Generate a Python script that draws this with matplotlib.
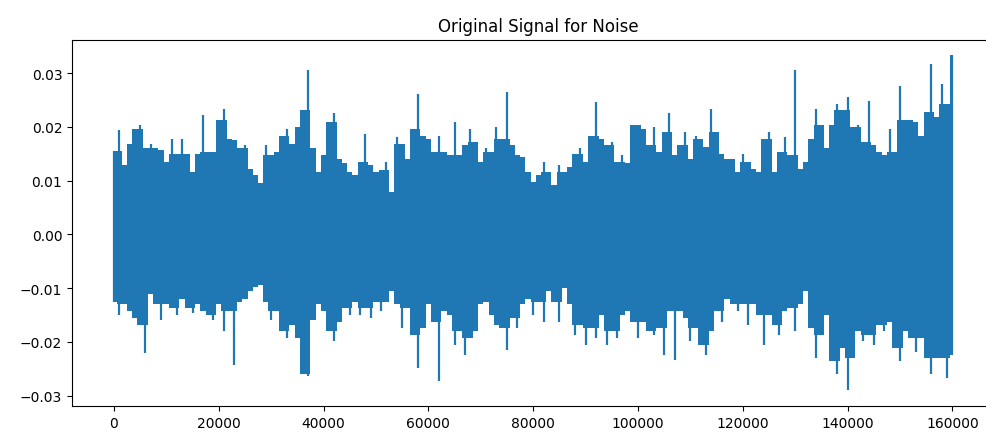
import numpy as np
import matplotlib
matplotlib.use("Agg")
import matplotlib.pyplot as plt

# Envelope of the noise signal, every 1000 samples
samples = np.arange(0, 160001, 1000)

upper = [
    # 0 - 19000
    0.0155, 0.0195, 0.0130, 0.0169, 0.0197, 0.0204, 0.0160, 0.0169, 0.0160, 0.0157,
    0.0135, 0.0178, 0.0150, 0.0178, 0.0150, 0.0116, 0.0150, 0.0222, 0.0153, 0.0153,
    # 20000 - 39000
    0.0212, 0.0234, 0.0178, 0.0175, 0.0160, 0.0166, 0.0122, 0.0110, 0.0095, 0.0166,
    0.0147, 0.0153, 0.0184, 0.0197, 0.0169, 0.0200, 0.0231, 0.0305, 0.0160, 0.0116,
    # 40000 - 59000
    0.0147, 0.0209, 0.0226, 0.0140, 0.0132, 0.0116, 0.0110, 0.0135, 0.0187, 0.0129,
    0.0116, 0.0120, 0.0135, 0.0079, 0.0181, 0.0169, 0.0140, 0.0197, 0.0262, 0.0184,
    # 60000 - 79000
    0.0178, 0.0153, 0.0184, 0.0153, 0.0147, 0.0209, 0.0147, 0.0166, 0.0197, 0.0172,
    0.0135, 0.0160, 0.0153, 0.0200, 0.0178, 0.0265, 0.0166, 0.0147, 0.0144, 0.0116,
    # 80000 - 99000
    0.0098, 0.0110, 0.0135, 0.0116, 0.0092, 0.0129, 0.0116, 0.0126, 0.0150, 0.0160,
    0.0135, 0.0184, 0.0246, 0.0178, 0.0166, 0.0172, 0.0135, 0.0147, 0.0132, 0.0203,
    # 100000 - 119000
    0.0203, 0.0197, 0.0166, 0.0200, 0.0153, 0.0190, 0.0225, 0.0147, 0.0166, 0.0190,
    0.0140, 0.0184, 0.0178, 0.0163, 0.0234, 0.0190, 0.0150, 0.0140, 0.0140, 0.0116,
    # 120000 - 139000
    0.0150, 0.0135, 0.0122, 0.0116, 0.0178, 0.0190, 0.0116, 0.0153, 0.0181, 0.0147,
    0.0305, 0.0122, 0.0135, 0.0178, 0.0234, 0.0203, 0.0160, 0.0203, 0.0243, 0.0231,
    # 140000 - 160000
    0.0255, 0.0200, 0.0203, 0.0172, 0.0249, 0.0166, 0.0153, 0.0147, 0.0197, 0.0153,
    0.0277, 0.0212, 0.0212, 0.0209, 0.0184, 0.0228, 0.0317, 0.0218, 0.0280, 0.0243,
    0.0333,
]

lower = [
    # 0 - 19000
    -0.0125, -0.0150, -0.0130, -0.0143, -0.0156, -0.0168, -0.0220, -0.0110, -0.0130, -0.0160,
    -0.0130, -0.0137, -0.0150, -0.0120, -0.0137, -0.0147, -0.0130, -0.0143, -0.0150, -0.0160,
    # 20000 - 39000
    -0.0130, -0.0180, -0.0143, -0.0242, -0.0125, -0.0120, -0.0106, -0.0097, -0.0094, -0.0125,
    -0.0160, -0.0143, -0.0180, -0.0193, -0.0168, -0.0193, -0.0260, -0.0264, -0.0160, -0.0130,
    # 40000 - 59000
    -0.0143, -0.0180, -0.0199, -0.0162, -0.0137, -0.0150, -0.0125, -0.0150, -0.0137, -0.0156,
    -0.0125, -0.0143, -0.0125, -0.0106, -0.0130, -0.0174, -0.0137, -0.0187, -0.0249, -0.0174,
    # 60000 - 79000
    -0.0130, -0.0162, -0.0273, -0.0143, -0.0150, -0.0205, -0.0180, -0.0224, -0.0193, -0.0180,
    -0.0130, -0.0125, -0.0150, -0.0168, -0.0174, -0.0215, -0.0156, -0.0174, -0.0130, -0.0120,
    # 80000 - 99000
    -0.0150, -0.0125, -0.0162, -0.0106, -0.0125, -0.0162, -0.0100, -0.0130, -0.0187, -0.0168,
    -0.0205, -0.0174, -0.0193, -0.0150, -0.0205, -0.0180, -0.0193, -0.0150, -0.0143, -0.0162,
    # 100000 - 119000
    -0.0193, -0.0162, -0.0180, -0.0187, -0.0174, -0.0224, -0.0143, -0.0233, -0.0143, -0.0156,
    -0.0199, -0.0174, -0.0205, -0.0224, -0.0180, -0.0143, -0.0162, -0.0120, -0.0130, -0.0143,
    # 120000 - 139000
    -0.0130, -0.0168, -0.0130, -0.0150, -0.0205, -0.0150, -0.0168, -0.0187, -0.0143, -0.0137,
    -0.0180, -0.0130, -0.0106, -0.0174, -0.0230, -0.0187, -0.0150, -0.0236, -0.0260, -0.0211,
    # 140000 - 160000
    -0.0289, -0.0230, -0.0180, -0.0199, -0.0187, -0.0205, -0.0168, -0.0180, -0.0162, -0.0211,
    -0.0236, -0.0180, -0.0193, -0.0218, -0.0193, -0.0230, -0.0260, -0.0230, -0.0230, -0.0267,
    -0.0224,
]

up = np.array(upper)
lo = np.array(lower)

# solid core: a sample that sticks out past both neighbours is drawn
# only as a thin stroke, the way the dense line plot shows it
up_pad = np.pad(up, 1, mode='edge')
lo_pad = np.pad(lo, 1, mode='edge')
core_up = np.minimum(up, np.maximum(up_pad[:-2], up_pad[2:]))
core_lo = np.maximum(lo, np.minimum(lo_pad[:-2], lo_pad[2:]))

fig = plt.figure(figsize=(9.86, 4.39), dpi=100)
# the right spine sits just past the picture edge in the reference
ax = fig.add_axes([0.073, 0.073, 0.945, 0.834])

ax.fill_between(samples, core_lo, core_up, step='mid', color='#1f77b4', linewidth=0)
ax.vlines(samples, lo, up, color='#1f77b4', linewidth=1.6)

ax.set_xlim(-8000, 169800)
ax.set_ylim(-0.0319, 0.0362)
ax.set_xticks(np.arange(0, 160001, 20000))
ax.set_yticks([-0.03, -0.02, -0.01, 0.0, 0.01, 0.02, 0.03])
ax.set_title("Original Signal for Noise")

fig.savefig("out.png", dpi=100)
